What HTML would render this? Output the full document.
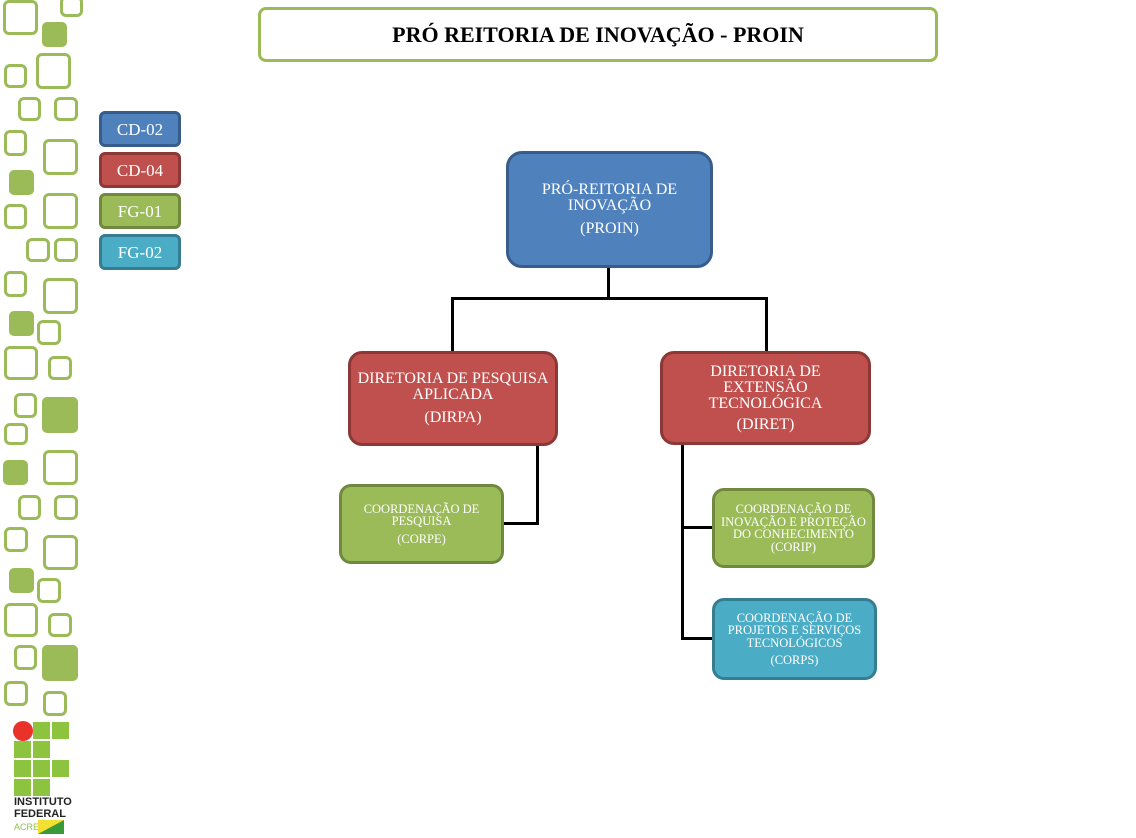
<!DOCTYPE html>
<html><head><meta charset="utf-8"><style>
body{margin:0;width:1136px;height:838px;background:#fff;position:relative;overflow:hidden;font-family:"Liberation Serif",serif}
.a{position:absolute;box-sizing:border-box}
.o{border:3px solid #9bbb59;border-radius:6px}
.f{background:#9bbb59;border-radius:5px}
.b{position:absolute;box-sizing:border-box;border-radius:12px;border:3px solid;color:#fff;text-align:center;display:flex;flex-direction:column;justify-content:center;align-items:center;line-height:1.0}
.blue{background:#4f81bd;border-color:#385d8a}
.red{background:#c0504d;border-color:#8c3836}
.green{background:#9bbb59;border-color:#71893f}
.teal{background:#4bacc6;border-color:#357d91}
.l{position:absolute;background:#000}
.lg{border-radius:6px;font-size:17px}
.s{background:#8cc43f;position:absolute;width:17px;height:17px}
</style></head><body>
<div class="a o" style="left:3px;top:0;width:35px;height:35px"></div>
<div class="a o" style="left:60px;top:-4px;width:23px;height:21px"></div>
<div class="a f" style="left:42px;top:22px;width:25px;height:25px"></div>
<div class="a o" style="left:4px;top:64px;width:23px;height:24px"></div>
<div class="a o" style="left:36px;top:53px;width:35px;height:36px"></div>
<div class="a o" style="left:18px;top:97px;width:23px;height:24px"></div>
<div class="a o" style="left:54px;top:97px;width:24px;height:24px"></div>
<div class="a o" style="left:4px;top:130px;width:23px;height:26px"></div>
<div class="a o" style="left:43px;top:139px;width:35px;height:36px"></div>
<div class="a f" style="left:9px;top:170px;width:25px;height:25px"></div>
<div class="a o" style="left:4px;top:204px;width:23px;height:25px"></div>
<div class="a o" style="left:43px;top:193px;width:35px;height:36px"></div>
<div class="a o" style="left:26px;top:238px;width:24px;height:24px"></div>
<div class="a o" style="left:54px;top:238px;width:24px;height:24px"></div>
<div class="a o" style="left:4px;top:271px;width:23px;height:26px"></div>
<div class="a o" style="left:43px;top:278px;width:35px;height:36px"></div>
<div class="a f" style="left:9px;top:311px;width:25px;height:25px"></div>
<div class="a o" style="left:37px;top:320px;width:24px;height:25px"></div>
<div class="a o" style="left:4px;top:346px;width:34px;height:34px"></div>
<div class="a o" style="left:48px;top:356px;width:24px;height:24px"></div>
<div class="a o" style="left:14px;top:393px;width:23px;height:25px"></div>
<div class="a f" style="left:42px;top:397px;width:36px;height:36px"></div>
<div class="a o" style="left:4px;top:423px;width:24px;height:22px"></div>
<div class="a f" style="left:3px;top:460px;width:25px;height:25px"></div>
<div class="a o" style="left:43px;top:450px;width:35px;height:35px"></div>
<div class="a o" style="left:18px;top:495px;width:23px;height:25px"></div>
<div class="a o" style="left:54px;top:495px;width:24px;height:25px"></div>
<div class="a o" style="left:4px;top:527px;width:24px;height:25px"></div>
<div class="a o" style="left:43px;top:535px;width:35px;height:35px"></div>
<div class="a f" style="left:9px;top:568px;width:25px;height:25px"></div>
<div class="a o" style="left:37px;top:578px;width:24px;height:25px"></div>
<div class="a o" style="left:4px;top:603px;width:34px;height:34px"></div>
<div class="a o" style="left:48px;top:613px;width:24px;height:24px"></div>
<div class="a o" style="left:14px;top:645px;width:23px;height:25px"></div>
<div class="a f" style="left:42px;top:645px;width:36px;height:36px"></div>
<div class="a o" style="left:4px;top:681px;width:24px;height:25px"></div>
<div class="a o" style="left:43px;top:691px;width:24px;height:25px"></div>
<div class="s" style="left:33px;top:722px"></div>
<div class="s" style="left:52px;top:722px"></div>
<div class="s" style="left:14px;top:741px"></div>
<div class="s" style="left:33px;top:741px"></div>
<div class="s" style="left:14px;top:760px"></div>
<div class="s" style="left:33px;top:760px"></div>
<div class="s" style="left:52px;top:760px"></div>
<div class="s" style="left:14px;top:779px"></div>
<div class="s" style="left:33px;top:779px"></div>
<div class="a" style="left:13px;top:721px;width:20px;height:20px;border-radius:50%;background:#e8322a"></div>
<div class="a" style="left:14px;top:796px;font:bold 11px 'Liberation Sans',sans-serif;line-height:12px;color:#222">INSTITUTO<br>FEDERAL</div>
<div class="a" style="left:14px;top:822px;font:9px 'Liberation Sans',sans-serif;color:#8cc43f">ACRE</div>
<svg class="a" style="left:38px;top:818px" width="26" height="16"><polygon points="0,2 26,2 26,16 0,16" fill="#f2e033"/><polygon points="0,16 26,2 26,16" fill="#3a9a3a"/></svg>
<div class="a" style="left:258px;top:7px;width:680px;height:55px;border:3px solid #9bbb59;border-radius:8px;display:flex;align-items:center;justify-content:center;font-weight:bold;font-size:22px">PRÓ REITORIA DE INOVAÇÃO - PROIN</div>
<div class="b blue lg" style="left:99px;top:111px;width:82px;height:36px">CD-02</div>
<div class="b red lg" style="left:99px;top:152px;width:82px;height:36px">CD-04</div>
<div class="b green lg" style="left:99px;top:193px;width:82px;height:36px">FG-01</div>
<div class="b teal lg" style="left:99px;top:234px;width:82px;height:36px">FG-02</div>
<div class="l" style="left:607px;top:266px;width:3px;height:34px"></div>
<div class="l" style="left:451px;top:297px;width:317px;height:3px"></div>
<div class="l" style="left:451px;top:297px;width:3px;height:56px"></div>
<div class="l" style="left:765px;top:297px;width:3px;height:56px"></div>
<div class="l" style="left:536px;top:443px;width:3px;height:82px"></div>
<div class="l" style="left:500px;top:522px;width:39px;height:3px"></div>
<div class="l" style="left:681px;top:442px;width:3px;height:198px"></div>
<div class="l" style="left:681px;top:526px;width:33px;height:3px"></div>
<div class="l" style="left:681px;top:637px;width:33px;height:3px"></div>
<div class="b blue" style="left:506px;top:151px;width:207px;height:117px;font-size:16px;border-radius:16px"><div>PRÓ-REITORIA DE<br>INOVAÇÃO</div><div style="margin-top:7px">(PROIN)</div></div>
<div class="b red" style="left:348px;top:351px;width:210px;height:95px;font-size:16px;border-radius:14px"><div>DIRETORIA DE PESQUISA<br>APLICADA</div><div style="margin-top:7px">(DIRPA)</div></div>
<div class="b red" style="left:660px;top:351px;width:211px;height:94px;font-size:16px;border-radius:14px"><div>DIRETORIA DE<br>EXTENSÃO<br>TECNOLÓGICA</div><div style="margin-top:5px">(DIRET)</div></div>
<div class="b green" style="left:339px;top:484px;width:165px;height:80px;font-size:12.5px"><div>COORDENAÇÃO DE<br>PESQUISA</div><div style="margin-top:5px">(CORPE)</div></div>
<div class="b green" style="left:712px;top:488px;width:163px;height:80px;font-size:12.5px"><div>COORDENAÇÃO DE<br>INOVAÇÃO E PROTEÇÃO<br>DO CONHECIMENTO<br>(CORIP)</div></div>
<div class="b teal" style="left:712px;top:598px;width:165px;height:82px;font-size:12.5px"><div>COORDENAÇÃO DE<br>PROJETOS E SERVIÇOS<br>TECNOLÓGICOS</div><div style="margin-top:5px">(CORPS)</div></div>
</body></html>
